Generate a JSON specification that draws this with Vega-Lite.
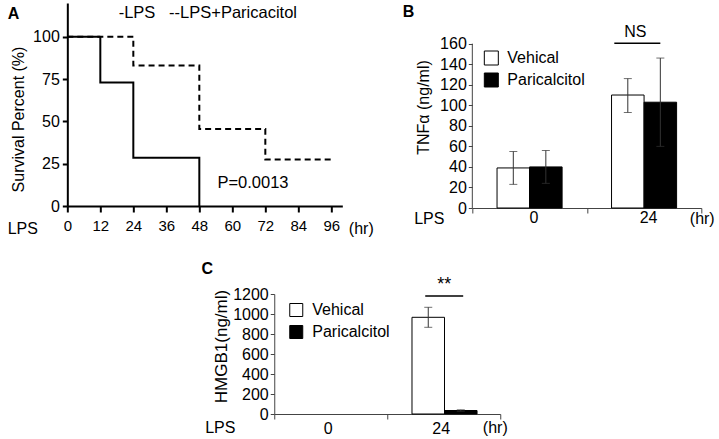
{
  "$schema": "https://vega.github.io/schema/vega-lite/v6.json",
  "background": "white",
  "padding": {"left": 7, "top": 3, "right": 0, "bottom": 0},
  "config": {
    "font": "Liberation Sans",
    "view": {"stroke": null},
    "axis": {"grid": false, "labelColor": "black", "titleColor": "black", "titleFontWeight": "normal", "labelFont": "Liberation Sans", "titleFont": "Liberation Sans", "labelOverlap": false, "labelFlush": false},
    "legend": {"padding": 0, "labelFont": "Liberation Sans", "labelColor": "black"}
  },
  "spacing": 23,
  "center": true,
  "resolve": {"scale": {"fill": "independent"}, "legend": {"fill": "independent"}},
  "vconcat": [
    {
      "spacing": 28,
      "resolve": {"scale": {"fill": "independent"}, "legend": {"fill": "independent"}},
      "hconcat": [
        {
          "width": 275,
          "height": 203,
          "resolve": {"axis": {"x": "independent", "y": "independent"}},
          "layer": [
            {
              "data": {"values": [
                {"group": "LPS", "time": 0, "survival": 100},
                {"group": "LPS", "time": 12, "survival": 73},
                {"group": "LPS", "time": 24, "survival": 28.5},
                {"group": "LPS", "time": 48, "survival": 0},
                {"group": "LPS+Paricalcitol", "time": 0, "survival": 100},
                {"group": "LPS+Paricalcitol", "time": 24, "survival": 83},
                {"group": "LPS+Paricalcitol", "time": 48, "survival": 45.5},
                {"group": "LPS+Paricalcitol", "time": 72, "survival": 27.5},
                {"group": "LPS+Paricalcitol", "time": 96, "survival": 27.5}
              ]},
              "mark": {"type": "line", "interpolate": "step-after", "color": "black", "strokeWidth": 2},
              "encoding": {
                "x": {"field": "time", "type": "quantitative", "scale": {"domain": [0, 100], "nice": false},
                  "axis": {"orient": "bottom", "values": [0, 12, 24, 36, 48, 60, 72, 84, 96], "labelOverlap": false, "title": null, "labelFontSize": 15, "tickSize": 6, "labelPadding": 6, "domainWidth": 2, "tickWidth": 2, "domainColor": "black", "tickColor": "black"}},
                "y": {"field": "survival", "type": "quantitative", "scale": {"domain": [0, 120], "nice": false},
                  "axis": {"orient": "left", "values": [0, 25, 50, 75, 100], "labelOverlap": false, "title": "Survival Percent (%)", "titleFontSize": 16, "labelFontSize": 16, "tickSize": 5, "labelPadding": 3, "domainWidth": 2, "tickWidth": 2, "titlePadding": 6, "titleY": 116, "domainColor": "black", "tickColor": "black"}},
                "strokeDash": {"field": "group", "type": "nominal", "scale": {"domain": ["LPS", "LPS+Paricalcitol"], "range": [[1, 0], [6, 4]]}, "legend": null}
              }
            },
            {
              "data": {"values": [{}]},
              "mark": {"type": "text", "text": "A", "fontSize": 16, "fontWeight": "bold", "align": "center", "baseline": "middle"},
              "encoding": {
                "x": {"datum": -19.6, "type": "quantitative", "axis": null},
                "y": {"datum": 113.5, "type": "quantitative", "axis": null}
              }
            },
            {
              "data": {"values": [{}]},
              "mark": {"type": "text", "text": "-LPS\u00a0\u00a0\u00a0--LPS+Paricacitol", "fontSize": 16.5, "align": "center", "baseline": "middle"},
              "encoding": {
                "x": {"datum": 51.1, "type": "quantitative", "axis": null},
                "y": {"datum": 113.9, "type": "quantitative", "axis": null}
              }
            },
            {
              "data": {"values": [{}]},
              "mark": {"type": "text", "text": "P=0.0013", "fontSize": 16.5, "align": "center", "baseline": "middle"},
              "encoding": {
                "x": {"datum": 67.5, "type": "quantitative", "axis": null},
                "y": {"datum": 13.8, "type": "quantitative", "axis": null}
              }
            },
            {
              "data": {"values": [{}]},
              "mark": {"type": "text", "text": "LPS", "fontSize": 16, "align": "center", "baseline": "middle"},
              "encoding": {
                "x": {"datum": -16.2, "type": "quantitative", "axis": null},
                "y": {"datum": -13.6, "type": "quantitative", "axis": null}
              }
            },
            {
              "data": {"values": [{}]},
              "mark": {"type": "text", "text": "(hr)", "fontSize": 16, "align": "center", "baseline": "middle"},
              "encoding": {
                "x": {"datum": 106.9, "type": "quantitative", "axis": null},
                "y": {"datum": -13.6, "type": "quantitative", "axis": null}
              }
            }
          ]
        },
        {
          "width": 229,
          "height": 205,
          "resolve": {"scale": {"x": "independent"}, "axis": {"x": "independent", "y": "independent"}},
          "layer": [
            {
              "data": {"values": [
                {"time": "0", "treatment": "Vehical", "mean": 39, "lo": 23, "hi": 55},
                {"time": "0", "treatment": "Paricalcitol", "mean": 40, "lo": 24, "hi": 56},
                {"time": "24", "treatment": "Vehical", "mean": 110, "lo": 93, "hi": 126},
                {"time": "24", "treatment": "Paricalcitol", "mean": 103, "lo": 60, "hi": 146}
              ]},
              "resolve": {"axis": {"x": "independent", "y": "independent"}},
              "layer": [
                {
                  "mark": {"type": "bar", "stroke": "black", "strokeWidth": 1},
                  "encoding": {
                    "x": {"field": "time", "type": "nominal", "scale": {"domain": ["0", "24"], "paddingInner": 0, "paddingOuter": 0},
                      "axis": {"orient": "bottom", "title": null, "labelAngle": 0, "labelOverlap": false, "labelFontSize": 16, "tickBand": "extent", "tickSize": 5, "labelPadding": -4, "labelOffset": 4, "domainColor": "#444", "tickColor": "#444"}},
                    "xOffset": {"field": "treatment", "type": "nominal", "scale": {"domain": ["Vehical", "Paricalcitol"], "paddingInner": 0, "paddingOuter": 0.76}},
                    "y": {"field": "mean", "type": "quantitative", "scale": {"domain": [0, 199.6], "nice": false},
                      "axis": {"orient": "left", "values": [0, 20, 40, 60, 80, 100, 120, 140, 160], "labelOverlap": false, "domain": false, "title": "TNFα (ng/ml)", "titleFontSize": 16, "labelFontSize": 16, "tickSize": 4, "labelPadding": 2, "titlePadding": 8, "titleY": 104, "tickColor": "#444"}},
                    "fill": {"field": "treatment", "type": "nominal", "scale": {"domain": ["Vehical", "Paricalcitol"], "range": ["white", "black"]},
                      "legend": {"orient": "none", "legendX": 11, "legendY": 47, "title": null, "symbolType": "square", "symbolSize": 196, "symbolStrokeColor": "black", "symbolStrokeWidth": 1, "labelFontSize": 16, "labelOffset": 8, "rowPadding": 4}}
                  }
                },
                {
                  "mark": {"type": "rule", "color": "#333", "strokeWidth": 1},
                  "encoding": {
                    "x": {"field": "time", "type": "nominal", "axis": null},
                    "xOffset": {"field": "treatment", "type": "nominal"},
                    "y": {"field": "lo", "type": "quantitative", "axis": null},
                    "y2": {"field": "hi"}
                  }
                },
                {
                  "mark": {"type": "tick", "color": "#333", "thickness": 1, "size": 8},
                  "encoding": {
                    "x": {"field": "time", "type": "nominal", "axis": null},
                    "xOffset": {"field": "treatment", "type": "nominal"},
                    "y": {"field": "hi", "type": "quantitative", "axis": null}
                  }
                },
                {
                  "mark": {"type": "tick", "color": "#333", "thickness": 1, "size": 8},
                  "encoding": {
                    "x": {"field": "time", "type": "nominal", "axis": null},
                    "xOffset": {"field": "treatment", "type": "nominal"},
                    "y": {"field": "lo", "type": "quantitative", "axis": null}
                  }
                }
              ]
            },
            {
              "data": {"values": [{}]},
              "layer": [
                {
                  "mark": {"type": "rule", "color": "#444", "strokeWidth": 1},
                  "encoding": {
                    "x": {"datum": 0, "type": "quantitative", "scale": {"domain": [0, 1], "nice": false}, "axis": null},
                    "y": {"datum": 0, "type": "quantitative", "axis": null},
                    "y2": {"datum": 160}
                  }
                },
                {
                  "mark": {"type": "text", "text": "B", "fontSize": 16, "fontWeight": "bold", "align": "center", "baseline": "middle"},
                  "encoding": {
                    "x": {"datum": -0.279, "type": "quantitative", "axis": null},
                    "y": {"datum": 190.8, "type": "quantitative", "axis": null}
                  }
                },
                {
                  "mark": {"type": "text", "text": "NS", "fontSize": 16, "align": "center", "baseline": "middle"},
                  "encoding": {
                    "x": {"datum": 0.712, "type": "quantitative", "axis": null},
                    "y": {"datum": 171, "type": "quantitative", "axis": null}
                  }
                },
                {
                  "mark": {"type": "rule", "color": "black", "strokeWidth": 1.5},
                  "encoding": {
                    "x": {"datum": 0.62, "type": "quantitative", "axis": null},
                    "x2": {"datum": 0.821},
                    "y": {"datum": 160.4, "type": "quantitative", "axis": null}
                  }
                },
                {
                  "mark": {"type": "text", "text": "LPS", "fontSize": 16, "align": "center", "baseline": "middle"},
                  "encoding": {
                    "x": {"datum": -0.188, "type": "quantitative", "axis": null},
                    "y": {"datum": -10.7, "type": "quantitative", "axis": null}
                  }
                },
                {
                  "mark": {"type": "text", "text": "(hr)", "fontSize": 16, "align": "center", "baseline": "middle"},
                  "encoding": {
                    "x": {"datum": 1.004, "type": "quantitative", "axis": null},
                    "y": {"datum": -10.7, "type": "quantitative", "axis": null}
                  }
                }
              ]
            }
          ]
        }
      ]
    },
    {
      "width": 226,
      "height": 120,
      "resolve": {"scale": {"x": "independent"}, "axis": {"x": "independent", "y": "independent"}},
      "layer": [
        {
          "data": {"values": [
            {"time": "24", "treatment": "Vehical", "mean": 967, "lo": 867, "hi": 1067},
            {"time": "24", "treatment": "Paricalcitol", "mean": 35, "lo": 28, "hi": 42}
          ]},
          "resolve": {"axis": {"x": "independent", "y": "independent"}},
          "layer": [
            {
              "mark": {"type": "bar", "stroke": "black", "strokeWidth": 1},
              "encoding": {
                "x": {"field": "time", "type": "nominal", "scale": {"domain": ["0", "24"], "paddingInner": 0, "paddingOuter": 0},
                  "axis": {"orient": "bottom", "title": null, "labelAngle": 0, "labelOverlap": false, "labelFontSize": 16, "tickBand": "extent", "tickSize": 5, "labelPadding": 1, "labelOffset": -3, "domainColor": "#444", "tickColor": "#444"}},
                "xOffset": {"field": "treatment", "type": "nominal", "scale": {"domain": ["Vehical", "Paricalcitol"], "paddingInner": 0, "paddingOuter": 0.76}},
                "y": {"field": "mean", "type": "quantitative", "scale": {"domain": [0, 1200], "nice": false},
                  "axis": {"orient": "left", "values": [0, 200, 400, 600, 800, 1000, 1200], "format": "d", "labelOverlap": false, "title": "HMGB1(ng/ml)", "titleFontSize": 17, "labelFontSize": 16, "tickSize": 4, "labelPadding": 2, "titlePadding": 2, "titleY": 52, "domainColor": "#444", "tickColor": "#444"}},
                "fill": {"field": "treatment", "type": "nominal", "scale": {"domain": ["Vehical", "Paricalcitol"], "range": ["white", "black"]},
                  "legend": {"orient": "none", "legendX": 14, "legendY": 8, "title": null, "symbolType": "square", "symbolSize": 169, "symbolStrokeColor": "black", "symbolStrokeWidth": 1, "labelFontSize": 16, "labelOffset": 8, "rowPadding": 4}}
              }
            },
            {
              "mark": {"type": "rule", "color": "#333", "strokeWidth": 1},
              "encoding": {
                "x": {"field": "time", "type": "nominal", "axis": null},
                "xOffset": {"field": "treatment", "type": "nominal"},
                "y": {"field": "lo", "type": "quantitative", "axis": null},
                "y2": {"field": "hi"}
              }
            },
            {
              "mark": {"type": "tick", "color": "#333", "thickness": 1, "size": 8},
              "encoding": {
                "x": {"field": "time", "type": "nominal", "axis": null},
                "xOffset": {"field": "treatment", "type": "nominal"},
                "y": {"field": "hi", "type": "quantitative", "axis": null}
              }
            },
            {
              "mark": {"type": "tick", "color": "#333", "thickness": 1, "size": 8},
              "encoding": {
                "x": {"field": "time", "type": "nominal", "axis": null},
                "xOffset": {"field": "treatment", "type": "nominal"},
                "y": {"field": "lo", "type": "quantitative", "axis": null}
              }
            }
          ]
        },
        {
          "data": {"values": [{}]},
          "layer": [
            {
              "mark": {"type": "text", "text": "C", "fontSize": 16, "fontWeight": "bold", "align": "center", "baseline": "middle"},
              "encoding": {
                "x": {"datum": -0.296, "type": "quantitative", "scale": {"domain": [0, 1], "nice": false}, "axis": null},
                "y": {"datum": 1450, "type": "quantitative", "axis": null}
              }
            },
            {
              "mark": {"type": "text", "text": "**", "fontSize": 18, "align": "center", "baseline": "middle"},
              "encoding": {
                "x": {"datum": 0.752, "type": "quantitative", "axis": null},
                "y": {"datum": 1290, "type": "quantitative", "axis": null}
              }
            },
            {
              "mark": {"type": "rule", "color": "black", "strokeWidth": 1.5},
              "encoding": {
                "x": {"datum": 0.668, "type": "quantitative", "axis": null},
                "x2": {"datum": 0.836},
                "y": {"datum": 1180, "type": "quantitative", "axis": null}
              }
            },
            {
              "mark": {"type": "text", "text": "LPS", "fontSize": 16, "align": "center", "baseline": "middle"},
              "encoding": {
                "x": {"datum": -0.239, "type": "quantitative", "axis": null},
                "y": {"datum": -140, "type": "quantitative", "axis": null}
              }
            },
            {
              "mark": {"type": "text", "text": "(hr)", "fontSize": 16, "align": "center", "baseline": "middle"},
              "encoding": {
                "x": {"datum": 0.978, "type": "quantitative", "axis": null},
                "y": {"datum": -140, "type": "quantitative", "axis": null}
              }
            }
          ]
        }
      ]
    }
  ]
}
